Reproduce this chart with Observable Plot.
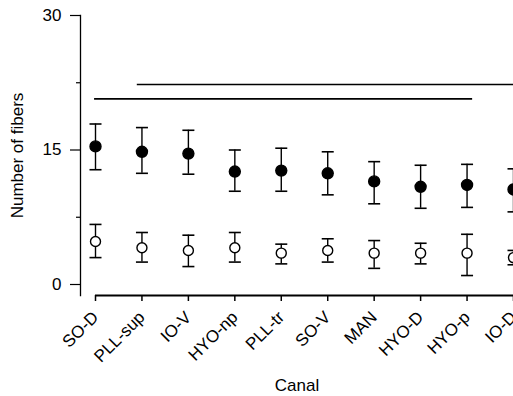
<!DOCTYPE html>
<html><head><meta charset="utf-8">
<script src="https://cdn.jsdelivr.net/npm/d3@7"></script>
<script src="https://cdn.jsdelivr.net/npm/@observablehq/plot@0.6"></script>
<style>body{margin:0;background:#fff;} svg{font-family:"Liberation Sans",Arial,sans-serif;}</style>
</head><body><div id="chart"></div>
<script>
const canals = ["SO-D","PLL-sup","IO-V","HYO-np","PLL-tr","SO-V","MAN","HYO-D","HYO-p","IO-D"];
const filledMean = [15.4,14.8,14.6,12.6,12.7,12.4,11.5,10.9,11.1,10.6];
const filledLow  = [12.8,12.4,12.3,10.4,10.4,10.0, 9.0, 8.5, 8.6, 8.1];
const filledHigh = [17.9,17.5,17.2,15.0,15.2,14.8,13.7,13.3,13.4,12.9];
const openMean = [4.8,4.1,3.8,4.1,3.5,3.8,3.5,3.5,3.5,3.0];
const openLow  = [3.0,2.5,2.0,2.5,2.3,2.5,1.8,2.3,1.0,2.2];
const openHigh = [6.7,5.8,5.5,5.8,4.5,5.1,4.9,4.6,5.6,3.8];
const yTicks = [0,15,30];
const yMinorTicks = [7.5,22.5];
// significance lines: start/end position (category index) and level
const sigStart = [-0.02, 0.9];
const sigEnd = [8.12, 9.6];
const sigLevel = [20.7, 22.3];

const filled = canals.map((c,i)=>({i, c, m:filledMean[i], lo:filledLow[i], hi:filledHigh[i]}));
const open = canals.map((c,i)=>({i, c, m:openMean[i], lo:openLow[i], hi:openHigh[i]}));
const sig = sigLevel.map((y,k)=>({y, x1:sigStart[k], x2:sigEnd[k]}));
const idx = canals.map((c,i)=>i);

const cap = {draw(ctx, size){const r=Math.sqrt(size/Math.PI); ctx.moveTo(-r,0); ctx.lineTo(r,0);}};

const errMarks = (d, fill) => [
  Plot.ruleX(d, {x:"i", y1:"lo", y2:"hi", stroke:"black", strokeWidth:1.4}),
  Plot.dot(d, {x:"i", y:"lo", symbol:cap, r:6, stroke:"black", strokeWidth:1.6}),
  Plot.dot(d, {x:"i", y:"hi", symbol:cap, r:6, stroke:"black", strokeWidth:1.6}),
  Plot.dot(d, {x:"i", y:"m", r:fill?5.5:5, fill: fill?"black":"white", stroke:"black", strokeWidth:1.4})
];

const chart = Plot.plot({
  width:513, height:396,
  marginLeft:80, marginRight:0, marginTop:15, marginBottom:101,
  style:{fontFamily:'"Liberation Sans",Arial,sans-serif', background:"white"},
  x:{domain:[0,9], range:[95,513]},
  y:{domain:[0,30], range:[284,15]},
  marks:[
    Plot.frame({anchor:"left", stroke:"black", strokeWidth:1.3}),
    Plot.axisY({ticks:yTicks, tickSize:10, tickPadding:9, fontSize:17, label:"Number of fibers", labelAnchor:"center", labelOffset:70, labelArrow:"none", strokeWidth:1.2}),
    Plot.axisY({ticks:yMinorTicks, tickSize:4, tickFormat:()=>"", label:null, strokeWidth:1.2}),
    Plot.ruleY([0], {x1:0, x2:9.5, dy:11, stroke:"black", strokeWidth:2}),
    Plot.axisX({ticks:idx, tickFormat:i=>canals[i], tickSize:6, tickPadding:13, tickRotate:-45, fontSize:17, label:"Canal", labelAnchor:"center", labelOffset:95, labelArrow:"none", strokeWidth:1.5}),
    Plot.ruleY(sig, {y:"y", x1:"x1", x2:"x2", stroke:"black", strokeWidth:1.6}),
    ...errMarks(filled, true),
    ...errMarks(open, false)
  ]
});
document.getElementById("chart").append(chart);
</script>
</body></html>
